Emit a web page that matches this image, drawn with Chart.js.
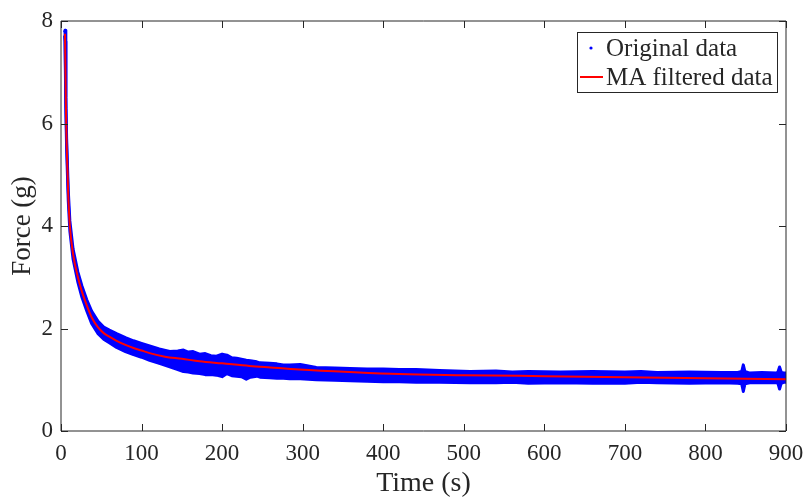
<!DOCTYPE html>
<html>
<head>
<meta charset="utf-8">
<script src="https://cdn.jsdelivr.net/npm/chart.js@4/dist/chart.umd.min.js"></script>
<style>
html,body{margin:0;padding:0;background:#fff;}
#wrap{width:808px;height:498px;}
</style>
</head>
<body>
<div id="wrap"><canvas id="c" width="808" height="498"></canvas></div>
<script>
// Moving-average (filtered) curve
const timeMA = [5,6,7,9,11,15,21,26,32,38,46,53,60,69,80,90,100,110,129,150,172,200,234,260,296,358,420,500,600,700,800,900];
const forceMA = [7.75,6.4,5.6,4.6,4.0,3.45,3.0,2.72,2.45,2.22,2.02,1.91,1.84,1.76,1.68,1.62,1.57,1.52,1.45,1.41,1.36,1.32,1.27,1.24,1.20,1.15,1.11,1.09,1.07,1.05,1.03,1.01];

// Envelope (upper / lower edge) of the original noisy data
const timeRaw = [4.5,5,6,7,9,11,15,21,26,32,38,46,53,60,69,80,90,100,110,122,135,145,152,158,164,172,179,186,193,200,206,212,218,224,230,235,243,247,259,268,276,284,297,317,340,359,380,400,420,441,470,508,540,560,580,620,660,700,720,740,780,820,840,845,847,849,855,870,888,890,892,894,897,900];
const upperRaw = [7.8,7.82,6.5,5.7,4.7,4.1,3.55,3.1,2.83,2.56,2.34,2.14,2.03,1.97,1.90,1.82,1.76,1.71,1.66,1.60,1.55,1.56,1.58,1.54,1.55,1.50,1.51,1.47,1.46,1.50,1.48,1.43,1.42,1.40,1.38,1.37,1.35,1.33,1.32,1.31,1.29,1.29,1.30,1.24,1.23,1.22,1.21,1.21,1.20,1.20,1.18,1.16,1.17,1.15,1.16,1.15,1.16,1.15,1.16,1.14,1.15,1.14,1.14,1.16,1.29,1.16,1.13,1.14,1.13,1.15,1.25,1.15,1.13,1.13];
const lowerRaw = [7.7,7.6,6.3,5.5,4.5,3.9,3.35,2.9,2.61,2.34,2.10,1.90,1.79,1.72,1.63,1.55,1.49,1.44,1.38,1.32,1.25,1.20,1.16,1.15,1.13,1.12,1.10,1.10,1.09,1.06,1.12,1.08,1.07,1.06,1.01,1.05,1.07,1.05,1.04,1.03,1.03,1.02,1.02,1.00,0.99,0.98,0.97,0.96,0.96,0.95,0.95,0.94,0.94,0.95,0.93,0.94,0.93,0.93,0.95,0.94,0.93,0.94,0.93,0.92,0.77,0.92,0.94,0.94,0.94,0.93,0.82,0.93,0.95,0.95];

const xTicks = [0,100,200,300,400,500,600,700,800,900];
const yTicks = [0,2,4,6,8];
const legendLabels = ['Original data','MA filtered data'];
const xTitle = 'Time (s)';
const yTitle = 'Force (g)';

const SERIF = '"Liberation Serif","Times New Roman",serif';
const TXT = '#262626';
const BLUE = '#0000ff';
const RED = '#ff0000';

const pts = (xs, ys) => xs.map((x, i) => ({x: x, y: ys[i]}));

const boxPlugin = {
  id: 'boxPlugin',
  afterDatasetsDraw(chart) {
    const ctx = chart.ctx;
    const a = chart.chartArea;
    const xs = chart.scales.x, ys = chart.scales.y;
    ctx.save();
    ctx.strokeStyle = TXT;
    ctx.lineWidth = 1;
    ctx.beginPath();
    ctx.rect(a.left, a.top, a.right - a.left, a.bottom - a.top);
    ctx.stroke();
    const L = 7;
    ctx.beginPath();
    xTicks.forEach(v => {
      const p = Math.round(xs.getPixelForValue(v)) + 0.5;
      ctx.moveTo(p, a.bottom); ctx.lineTo(p, a.bottom - L);
      ctx.moveTo(p, a.top); ctx.lineTo(p, a.top + L);
    });
    yTicks.forEach(v => {
      const p = Math.round(ys.getPixelForValue(v)) + 0.5;
      ctx.moveTo(a.left, p); ctx.lineTo(a.left + L, p);
      ctx.moveTo(a.right, p); ctx.lineTo(a.right - L, p);
    });
    ctx.stroke();

    // legend box
    const bx = 577.5, by = 32.5, bw = 200, bh = 60;
    ctx.fillStyle = '#fff';
    ctx.fillRect(bx, by, bw, bh);
    ctx.strokeStyle = TXT;
    ctx.strokeRect(bx, by, bw, bh);
    ctx.fillStyle = BLUE;
    ctx.beginPath();
    ctx.arc(591, 48, 1.6, 0, Math.PI * 2);
    ctx.fill();
    ctx.strokeStyle = RED;
    ctx.lineWidth = 2;
    ctx.beginPath();
    ctx.moveTo(580, 77); ctx.lineTo(603, 77);
    ctx.stroke();
    ctx.fillStyle = TXT;
    ctx.font = '25px ' + SERIF;
    ctx.textBaseline = 'alphabetic';
    ctx.textAlign = 'left';
    ctx.fillText(legendLabels[0], 606, 56);
    ctx.fillText(legendLabels[1], 606, 85);
    ctx.restore();
  }
};

new Chart(document.getElementById('c'), {
  type: 'line',
  data: {
    datasets: [
      {label: legendLabels[1], data: pts(timeMA, forceMA), borderColor: RED, borderWidth: 2, pointRadius: 0, fill: false, cubicInterpolationMode: 'monotone', order: 0},
      {label: legendLabels[0], data: pts(timeRaw, upperRaw), borderColor: BLUE, backgroundColor: BLUE, borderWidth: 3, pointRadius: 0, fill: '+1', tension: 0, borderJoinStyle: 'round', borderCapStyle: 'round', order: 1},
      {label: legendLabels[0] + ' (lower)', data: pts(timeRaw, lowerRaw), borderColor: BLUE, borderWidth: 3, pointRadius: 0, fill: false, tension: 0, borderJoinStyle: 'round', borderCapStyle: 'round', order: 2}
    ]
  },
  options: {
    responsive: false,
    animation: false,
    devicePixelRatio: 1,
    layout: {padding: {left: 0, right: 22, top: 21, bottom: 0}},
    plugins: {legend: {display: false}, tooltip: {enabled: false}},
    scales: {
      x: {
        type: 'linear', min: 0, max: 900,
        afterBuildTicks: s => { s.ticks = xTicks.map(v => ({value: v})); },
        afterFit: s => { s.height = 67; s.paddingLeft = 0; s.paddingRight = 0; },
        grid: {display: false, drawTicks: false},
        border: {display: false},
        ticks: {color: TXT, font: {family: SERIF, size: 23}, padding: 9, maxRotation: 0, autoSkip: false},
        title: {display: true, text: xTitle, color: TXT, font: {family: SERIF, size: 28, lineHeight: 1}, padding: {top: 0, bottom: 0}}
      },
      y: {
        type: 'linear', min: 0, max: 8,
        afterBuildTicks: s => { s.ticks = yTicks.map(v => ({value: v})); },
        afterFit: s => { s.width = 61; s.paddingTop = 0; s.paddingBottom = 0; },
        grid: {display: false, drawTicks: false},
        border: {display: false},
        ticks: {color: TXT, font: {family: SERIF, size: 23}, padding: 8, autoSkip: false},
        title: {display: true, text: yTitle, color: TXT, font: {family: SERIF, size: 27, lineHeight: 1}, padding: {top: 9, bottom: 0}}
      }
    }
  },
  plugins: [boxPlugin]
});
</script>
</body>
</html>
